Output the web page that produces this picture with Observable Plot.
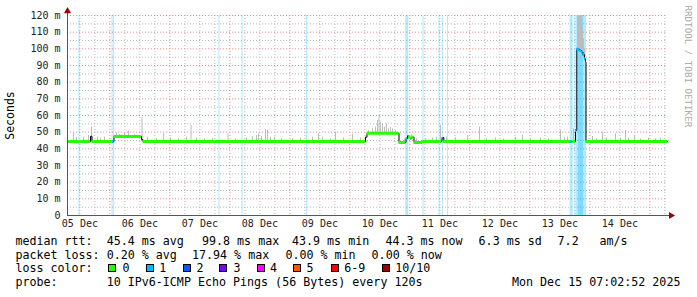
<!DOCTYPE html>
<html><head><meta charset="utf-8">
<script src="https://cdn.jsdelivr.net/npm/d3@7"></script>
<script src="https://cdn.jsdelivr.net/npm/@observablehq/plot@0.6"></script>
<style>
body{margin:0;background:#fff}
#wrap{position:relative;width:697px;height:297px;background:#fff;overflow:hidden}
#wrap svg{position:absolute;left:0;top:0}
.t{position:absolute;font-family:"DejaVu Sans Mono",monospace;font-size:11.66px;line-height:14px;color:#000;white-space:pre}
.b{position:absolute;width:6px;height:6px;border:1px solid #000}
</style></head><body><div id="wrap"></div>
<script>
// ---------- data ----------
const periodStart = "2025-12-05T07:02:52Z";
const periodEnd = "2025-12-15T07:02:52Z";

const yTicks = [0, 10, 20, 30, 40, 50, 60, 70, 80, 90, 100, 110, 120];
const yTickLabels = ["0", "10 m", "20 m", "30 m", "40 m", "50 m", "60 m", "70 m", "80 m", "90 m", "100 m", "110 m", "120 m"];

const xTickDays = ["2025-12-05T12:00", "2025-12-06T12:00", "2025-12-07T12:00", "2025-12-08T12:00", "2025-12-09T12:00",
  "2025-12-10T12:00", "2025-12-11T12:00", "2025-12-12T12:00", "2025-12-13T12:00", "2025-12-14T12:00"];
const xTickLabels = ["05 Dec", "06 Dec", "07 Dec", "08 Dec", "09 Dec", "10 Dec", "11 Dec", "12 Dec", "13 Dec", "14 Dec"];

// median rtt (ms), step series; loss class per step (null = no coloured band)
const medianTimes = ["2025-12-05T07:03", "2025-12-05T16:15", "2025-12-05T16:51", "2025-12-06T01:03", "2025-12-06T01:39",
  "2025-12-06T12:39", "2025-12-06T13:15", "2025-12-10T06:15", "2025-12-10T06:51", "2025-12-10T19:39",
  "2025-12-10T22:27", "2025-12-10T23:03", "2025-12-10T23:27", "2025-12-11T00:15", "2025-12-11T00:51",
  "2025-12-11T01:39", "2025-12-11T05:03", "2025-12-11T12:46", "2025-12-11T13:10", "2025-12-11T13:34",
  "2025-12-13T16:15", "2025-12-13T17:10", "2025-12-13T18:15", "2025-12-13T18:46", "2025-12-13T19:27",
  "2025-12-13T20:03", "2025-12-13T20:39", "2025-12-13T21:15", "2025-12-13T21:51", "2025-12-13T22:15",
  "2025-12-13T22:27", "2025-12-15T07:03"];
const medianValues = [44.4, 47.5, 44.4, 44.4, 47.4, 45.5, 44.4, 47.0, 49.3, 43.8,
  46.0, 47.8, 47.0, 46.3, 47.0, 43.8, 44.4, 46.0, 46.8, 44.4,
  44.4, 44.4, 51.0, 99.8, 99.6, 99.0, 98.0, 96.5, 94.0, 92.0,
  44.4, 44.4];
const medianLoss = ["0", null, "0", "1", "0", null, "0", null, "0", "0",
  "1", null, "0", "0", "0", "0", "0", "1", null, "0",
  "1", "0", "1", "1", "1", "1", "1", "1", "1", "1",
  "0", "0"];

// smoke (ping spread) spikes: time, low, high (ms)
const smokeTimes = ["2025-12-05T09:27", "2025-12-05T10:39", "2025-12-05T13:27", "2025-12-05T15:27", "2025-12-05T16:39",
  "2025-12-05T19:03", "2025-12-05T20:15", "2025-12-05T21:51", "2025-12-06T02:39", "2025-12-06T03:51",
  "2025-12-06T05:51", "2025-12-06T07:27", "2025-12-06T09:51", "2025-12-06T12:51", "2025-12-06T15:03",
  "2025-12-06T18:39", "2025-12-06T21:27", "2025-12-07T00:15", "2025-12-07T03:27", "2025-12-07T06:39",
  "2025-12-07T08:27", "2025-12-07T10:39", "2025-12-07T13:51", "2025-12-07T17:03", "2025-12-07T23:15",
  "2025-12-08T02:15", "2025-12-08T06:39", "2025-12-08T09:03", "2025-12-08T10:39", "2025-12-08T11:27",
  "2025-12-08T12:39", "2025-12-08T14:15", "2025-12-08T15:03", "2025-12-08T16:15", "2025-12-08T17:51",
  "2025-12-08T20:39", "2025-12-09T01:03", "2025-12-09T04:15", "2025-12-09T09:03", "2025-12-09T11:27",
  "2025-12-09T13:03", "2025-12-09T16:15", "2025-12-09T18:15", "2025-12-09T21:27", "2025-12-10T01:03",
  "2025-12-10T04:15", "2025-12-10T07:27", "2025-12-10T09:03", "2025-12-10T10:15", "2025-12-10T11:03",
  "2025-12-10T11:39", "2025-12-10T12:15", "2025-12-10T13:03", "2025-12-10T13:51", "2025-12-10T14:39",
  "2025-12-10T15:27", "2025-12-10T16:15", "2025-12-10T17:03", "2025-12-10T18:15", "2025-12-10T21:51",
  "2025-12-11T00:39", "2025-12-11T02:39", "2025-12-11T06:15", "2025-12-11T09:03", "2025-12-11T10:39",
  "2025-12-11T12:15", "2025-12-11T14:39", "2025-12-11T18:15", "2025-12-11T23:03", "2025-12-12T03:51",
  "2025-12-12T06:39", "2025-12-12T10:15", "2025-12-12T13:27", "2025-12-12T18:15", "2025-12-12T21:03",
  "2025-12-13T00:15", "2025-12-13T04:15", "2025-12-13T07:27", "2025-12-13T12:15", "2025-12-13T13:51",
  "2025-12-13T15:03", "2025-12-13T17:27", "2025-12-13T19:03", "2025-12-13T19:27", "2025-12-13T19:51",
  "2025-12-13T20:15", "2025-12-13T20:39", "2025-12-13T21:03", "2025-12-13T21:27", "2025-12-13T21:51",
  "2025-12-14T01:03", "2025-12-14T02:39", "2025-12-14T05:03", "2025-12-14T06:39", "2025-12-14T10:15",
  "2025-12-14T12:15", "2025-12-14T14:15", "2025-12-14T15:27", "2025-12-14T17:51", "2025-12-14T20:15",
  "2025-12-14T23:27", "2025-12-15T02:15", "2025-12-15T04:15"];
const smokeLow = [44.4, 44.4, 44.4, 44.4, 44.4, 44.4, 44.4, 44.4, 47.4, 47.4,
  47.4, 47.4, 47.4, 44.4, 44.4, 44.4, 44.4, 44.4, 44.4, 44.4,
  44.4, 44.4, 44.4, 44.4, 44.4, 44.4, 44.4, 44.4, 44.4, 44.4,
  44.4, 44.4, 44.4, 44.4, 44.4, 44.4, 44.4, 44.4, 44.4, 44.4,
  44.4, 44.4, 44.4, 44.4, 44.4, 44.4, 49.3, 49.3, 49.3, 49.3,
  49.3, 49.3, 49.3, 49.3, 49.3, 49.3, 49.3, 49.3, 49.3, 43.8,
  47.0, 44.4, 44.4, 44.4, 44.4, 44.4, 44.4, 44.4, 44.4, 44.4,
  44.4, 44.4, 44.4, 44.4, 44.4, 44.4, 44.4, 44.4, 44.4, 44.4,
  44.4, 44.4, 99.8, 99.6, 99.0, 98.5, 98.0, 96.5, 95.0, 94.0,
  44.4, 44.4, 44.4, 44.4, 44.4, 44.4, 44.4, 44.4, 44.4, 44.4,
  44.4, 44.4, 44.4];
const smokeHigh = [50, 47, 47, 48, 53, 47, 46.5, 47, 49.5, 48.5,
  49, 50.5, 48.5, 59, 47, 46, 49.4, 46.5, 46, 47,
  54, 46.5, 46, 46, 49, 46, 46.5, 47.5, 48, 49,
  47.5, 51.5, 51, 47, 47, 46, 46, 46.5, 47, 49,
  47, 46, 50, 46.5, 48.6, 46.5, 51, 52, 53, 57,
  60, 56, 55, 53, 55, 52, 53, 52, 51, 46,
  48.5, 46, 46, 46.5, 47, 54, 47, 46.5, 48, 53,
  46, 46.5, 46, 47, 48, 46, 46.5, 46, 51, 47,
  47, 52, 120, 120, 120, 120, 118, 112, 106, 100,
  47.4, 46, 50, 46.5, 49, 46.5, 51, 46.5, 48, 46,
  46.5, 46, 46.5];

// loss periods (background bars)
const lossStart = ["2025-12-05T11:38", "2025-12-06T00:50", "2025-12-06T01:28", "2025-12-07T19:38", "2025-12-08T04:50",
  "2025-12-09T06:38", "2025-12-10T22:20", "2025-12-11T05:14", "2025-12-11T11:38", "2025-12-11T12:58",
  "2025-12-11T15:02", "2025-12-13T16:05", "2025-12-13T18:02", "2025-12-13T18:40", "2025-12-13T19:25"];
const lossEnd = ["2025-12-05T12:04", "2025-12-06T01:16", "2025-12-06T01:54", "2025-12-07T20:04", "2025-12-08T05:16",
  "2025-12-09T07:04", "2025-12-10T23:30", "2025-12-11T05:40", "2025-12-11T12:04", "2025-12-11T13:24",
  "2025-12-11T15:28", "2025-12-13T17:20", "2025-12-13T18:28", "2025-12-13T22:40", "2025-12-13T21:25"];

// legend
const lossLabels = ["0", "1", "2", "3", "4", "5", "6-9", "10/10"];
const lossColors = ["#26ff00", "#00b8ff", "#0059ff", "#7e00ff", "#ff00ff", "#ff5500", "#ff0000", "#a10000"];
const rttTitle = "median rtt:";
const rttStats = ["45.4 ms avg", "99.8 ms max", "43.9 ms min", "44.3 ms now", "6.3 ms sd", "7.2", "am/s"];
const lossTitle = "packet loss:";
const lossStats = ["0.20 % avg", "17.94 % max", "0.00 % min", "0.00 % now"];
const colorTitle = "loss color:";
const probeTitle = "probe:";
const probeText = "10 IPv6-ICMP Echo Pings (56 Bytes) every 120s";
const stamp = "Mon Dec 15 07:02:52 2025";
const yTitle = "Seconds";
const sideText = "RRDTOOL / TOBI OETIKER";

// ---------- build ----------
const T = s => new Date(s.length === 16 ? s + ":00Z" : s);
const x0 = T(periodStart), x1 = T(periodEnd);

const median = medianTimes.map((t, i) => ({
  t: T(t), v: medianValues[i], loss: medianLoss[i],
  next: i < medianTimes.length - 1 ? T(medianTimes[i + 1]) : null
}));
const bands = median.filter(d => d.loss != null && d.next);
const smoke = smokeTimes.map((t, i) => ({t: T(t), lo: smokeLow[i], hi: smokeHigh[i]}));
const losses = lossStart.map((s, i) => ({s: T(s), e: T(lossEnd[i])}));

const yLab = new Map(yTicks.map((v, i) => [v, yTickLabels[i]]));
const xDates = xTickDays.map(T);
const xLab = new Map(xDates.map((d, i) => [+d, xTickLabels[i]]));

const minorY = d3.range(5, 120, 10);
const majorY = d3.range(10, 121, 10);
const sixH = d3.utcHour.every(6).range(x0, x1).filter(d => d.getUTCHours() !== 0);
const days = d3.utcDay.range(x0, x1);

const MIN = 60000;
const chart = Plot.plot({
  width: 697, height: 232,
  marginLeft: 67, marginRight: 30, marginTop: 15, marginBottom: 17,
  x: {type: "utc", domain: [x0, x1]},
  y: {domain: [0, 120]},
  color: {type: "ordinal", domain: lossLabels, range: lossColors},
  style: {fontFamily: "'DejaVu Sans Mono', monospace", fontSize: "10px", color: "#222", background: "#fff", overflow: "visible"},
  marks: [
    Plot.ruleY(minorY, {stroke: "#b8b8b8", strokeDasharray: "1,2"}),
    Plot.ruleX(sixH, {stroke: "#b8b8b8", strokeDasharray: "1,2"}),
    Plot.ruleY(majorY, {stroke: "#f08a8a", strokeDasharray: "1,2"}),
    Plot.ruleX(days, {stroke: "#f08a8a", strokeDasharray: "1,2"}),
    Plot.rect(losses, {x1: "s", x2: "e", fill: "#00b8ff", fillOpacity: 0.3}),
    Plot.ruleX(smoke, {x: "t", y1: "lo", y2: "hi", stroke: "#bcbcbc", strokeWidth: 1}),
    Plot.line(median, {x: "t", y: "v", curve: "step-after", stroke: "#000", strokeWidth: 1}),
    Plot.ruleY(bands, {x1: "t", x2: "next", y: "v", stroke: "loss", strokeWidth: 3}),
    Plot.ruleX([0], {x: () => x0, y1: () => 0, y2: () => 123, stroke: "#555"}),
    Plot.ruleY([0], {y: () => 0, x1: () => x0, x2: () => new Date(+x1 + 90 * MIN), stroke: "#555"}),
    Plot.dot([0], {x: () => x0, y: () => 122.6, symbol: "triangle", r: 2.6, fill: "#990000", stroke: null}),
    Plot.dot([0], {x: () => new Date(+x1 + 84 * MIN), y: () => 0, symbol: "triangle", r: 2.6, rotate: 90, fill: "#990000", stroke: null}),
    Plot.axisY(yTicks, {tickFormat: d => yLab.get(d), tickSize: 0, tickPadding: 7, label: null, fontSize: 10, fill: "#222"}),
    Plot.axisX(xDates, {tickFormat: d => xLab.get(+d), tickSize: 0, tickPadding: 4, label: null, fontSize: 10, fill: "#222"}),
    Plot.text([yTitle], {text: d => d, frameAnchor: "left", dx: -57, rotate: -90, textAnchor: "middle", lineAnchor: "middle", fontSize: 11.5, fill: "#000"}),
    Plot.text([sideText], {text: d => d, frameAnchor: "top-right", dx: 20, dy: -10, rotate: 90, textAnchor: "start", lineAnchor: "middle", fontSize: 9.2, fill: "#aaa"})
  ]
});
const wrap = document.getElementById("wrap");
wrap.appendChild(chart);

// legend (below the chart)
function txt(s, left, top) {
  const e = document.createElement("div");
  e.className = "t"; e.textContent = s;
  e.style.left = left + "px"; e.style.top = top + "px";
  wrap.appendChild(e);
}
const rows = [233.7, 247.7, 261, 275.3];
const col0 = 15.4;
txt(rttTitle, col0, rows[0]);
[106.7, 202, 292, 385.4, 478.6, 557.6, 599.4].forEach((x, i) => txt(rttStats[i], x, rows[0]));
txt(lossTitle, col0, rows[1]);
[106.7, 192, 285.4, 371.6].forEach((x, i) => txt(lossStats[i], x, rows[1]));
txt(colorTitle, col0, rows[2]);
const boxX = [108.3, 145.7, 182.7, 219.3, 256.7, 293.3, 330.7, 381.7];
const labX = [122.6, 159.3, 196.6, 233.6, 270, 306.6, 344.3, 395.3];
lossLabels.forEach((l, i) => {
  const b = document.createElement("div");
  b.className = "b"; b.style.background = lossColors[i];
  b.style.left = boxX[i] + "px"; b.style.top = "264px";
  wrap.appendChild(b);
  txt(l, labX[i], rows[2]);
});
txt(probeTitle, col0, rows[3]);
txt(probeText, 106.7, rows[3]);
txt(stamp, 512, rows[3]);
</script></body></html>
